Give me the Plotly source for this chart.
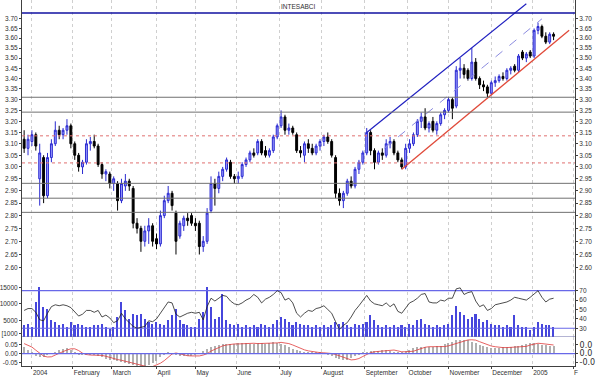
import numpy as np
import pandas as pd
import plotly.graph_objects as go

# ---------------- data (each bar = 2 trading sessions) ----------------
title_text = "INTESABCI"

holidays = ["2003-12-24", "2003-12-25", "2003-12-26", "2003-12-31", "2004-01-01",
            "2004-04-09", "2004-04-12", "2004-12-24", "2004-12-31"]

open_ = [3.12, 3.08, 3.11, 3.14, 2.95, 3.04, 2.88, 3.04, 3.10, 3.16,
         3.14, 3.16, 3.18, 3.10, 3.05, 3.00, 3.02, 3.10, 3.11, 3.09,
         3.01, 2.97, 2.97, 2.93, 2.93, 2.86, 2.92, 2.94, 2.91, 2.77,
         2.75, 2.70, 2.74, 2.76, 2.71, 2.69, 2.80, 2.86, 2.89, 2.81,
         2.72, 2.76, 2.79, 2.80, 2.77, 2.77, 2.68, 2.70, 2.82, 2.93,
         2.91, 2.96, 2.99, 3.02, 2.96, 2.95, 2.96, 3.01, 3.03, 3.06,
         3.06, 3.11, 3.07, 3.05, 3.07, 3.13, 3.18, 3.22, 3.16, 3.17,
         3.14, 3.07, 3.05, 3.10, 3.08, 3.06, 3.09, 3.11, 3.13, 3.11,
         3.04, 2.89, 2.86, 2.89, 2.94, 2.92, 2.99, 3.02, 3.06, 3.15,
         3.07, 3.02, 3.06, 3.05, 3.10, 3.11, 3.06, 3.03, 3.00, 3.08,
         3.10, 3.14, 3.20, 3.22, 3.17, 3.20, 3.16, 3.19, 3.23, 3.25,
         3.30, 3.27, 3.44, 3.45, 3.44, 3.40, 3.48, 3.40, 3.37, 3.36,
         3.33, 3.38, 3.39, 3.41, 3.40, 3.44, 3.46, 3.44, 3.53, 3.50,
         3.53, 3.51, 3.64, 3.66, 3.61, 3.58, 3.62]
high = [3.16, 3.14, 3.16, 3.15, 3.10, 3.05, 3.06, 3.12, 3.20, 3.18,
        3.17, 3.21, 3.19, 3.11, 3.06, 3.03, 3.12, 3.13, 3.14, 3.10,
        3.02, 2.99, 2.98, 2.96, 2.94, 2.95, 2.97, 2.95, 2.92, 2.79,
        2.76, 2.76, 2.79, 2.77, 2.73, 2.82, 2.88, 2.92, 2.90, 2.82,
        2.78, 2.80, 2.81, 2.81, 2.79, 2.78, 2.72, 2.83, 2.96, 2.95,
        2.98, 3.00, 3.04, 3.03, 2.97, 2.98, 3.02, 3.04, 3.07, 3.08,
        3.12, 3.12, 3.09, 3.08, 3.14, 3.19, 3.25, 3.23, 3.19, 3.18,
        3.15, 3.09, 3.11, 3.12, 3.10, 3.10, 3.12, 3.14, 3.15, 3.12,
        3.05, 2.91, 2.90, 2.95, 2.96, 3.00, 3.03, 3.07, 3.17, 3.16,
        3.08, 3.07, 3.08, 3.12, 3.13, 3.12, 3.07, 3.04, 3.10, 3.12,
        3.15, 3.21, 3.24, 3.26, 3.20, 3.22, 3.20, 3.24, 3.26, 3.31,
        3.31, 3.46, 3.50, 3.47, 3.45, 3.55, 3.50, 3.41, 3.39, 3.37,
        3.39, 3.41, 3.42, 3.43, 3.45, 3.46, 3.47, 3.52, 3.54, 3.53,
        3.54, 3.65, 3.68, 3.67, 3.63, 3.63, 3.63]
low = [3.06, 3.05, 3.09, 3.07, 2.84, 2.85, 2.87, 3.02, 3.09, 3.12,
       3.12, 3.14, 3.08, 3.03, 2.98, 2.97, 3.01, 3.07, 3.08, 3.00,
       2.95, 2.94, 2.91, 2.90, 2.82, 2.85, 2.90, 2.90, 2.75, 2.73,
       2.66, 2.68, 2.69, 2.68, 2.67, 2.68, 2.79, 2.85, 2.82, 2.65,
       2.71, 2.74, 2.76, 2.76, 2.74, 2.65, 2.66, 2.69, 2.81, 2.84,
       2.89, 2.94, 2.98, 2.95, 2.93, 2.93, 2.95, 3.00, 3.02, 3.04,
       3.05, 3.05, 3.04, 3.04, 3.06, 3.12, 3.17, 3.14, 3.14, 3.14,
       3.06, 3.04, 3.02, 3.06, 3.05, 3.05, 3.07, 3.09, 3.10, 3.04,
       2.87, 2.84, 2.83, 2.88, 2.91, 2.91, 2.97, 3.01, 3.05, 3.05,
       2.99, 3.01, 3.03, 3.04, 3.08, 3.05, 3.02, 2.99, 2.99, 3.06,
       3.09, 3.13, 3.17, 3.16, 3.15, 3.15, 3.14, 3.18, 3.21, 3.24,
       3.21, 3.26, 3.40, 3.40, 3.39, 3.39, 3.39, 3.35, 3.34, 3.31,
       3.32, 3.36, 3.38, 3.39, 3.39, 3.42, 3.43, 3.43, 3.49, 3.48,
       3.50, 3.50, 3.62, 3.60, 3.57, 3.57, 3.59]
close = [3.08, 3.12, 3.14, 3.09, 3.06, 2.88, 3.04, 3.10, 3.16, 3.14,
         3.16, 3.18, 3.10, 3.05, 3.00, 3.02, 3.10, 3.11, 3.09, 3.01,
         2.97, 2.98, 2.93, 2.95, 2.86, 2.93, 2.94, 2.92, 2.77, 2.75,
         2.70, 2.74, 2.76, 2.70, 2.69, 2.80, 2.86, 2.89, 2.84, 2.70,
         2.77, 2.79, 2.78, 2.77, 2.76, 2.68, 2.70, 2.81, 2.93, 2.91,
         2.96, 2.99, 3.03, 2.96, 2.95, 2.96, 3.01, 3.03, 3.06, 3.05,
         3.11, 3.06, 3.05, 3.07, 3.13, 3.18, 3.22, 3.16, 3.17, 3.15,
         3.07, 3.06, 3.10, 3.08, 3.06, 3.09, 3.11, 3.13, 3.11, 3.05,
         2.89, 2.86, 2.89, 2.94, 2.92, 2.99, 3.02, 3.06, 3.15, 3.07,
         3.02, 3.06, 3.05, 3.10, 3.11, 3.06, 3.03, 3.00, 3.08, 3.10,
         3.14, 3.20, 3.22, 3.17, 3.19, 3.16, 3.19, 3.23, 3.25, 3.30,
         3.26, 3.44, 3.45, 3.42, 3.40, 3.48, 3.40, 3.37, 3.36, 3.33,
         3.38, 3.39, 3.41, 3.40, 3.44, 3.45, 3.44, 3.51, 3.50, 3.52,
         3.51, 3.64, 3.66, 3.61, 3.58, 3.62, 3.61]
volume = [3500, 4000, 3000, 10500, 15000, 9000, 8500, 5000, 4500, 3500,
          4000, 3000, 4500, 3500, 4000, 3500, 3000, 3000, 3500, 3500,
          4000, 3000, 2500, 3000, 6000, 10500, 8000, 5500, 7000, 6500,
          7000, 5500, 4500, 4000, 4500, 4000, 3500, 5000, 6500, 8500,
          5000, 4000, 3500, 3000, 3000, 5500, 7500, 15000, 9000, 5500,
          6000, 13000, 5000, 4000, 3500, 4000, 3000, 3500, 3000, 3500,
          3000, 4000, 3500, 3000, 4000, 5000, 6000, 5500, 4500, 3500,
          4500, 4000, 3500, 3500, 3000, 3500, 3000, 3500, 3000, 3500,
          4500, 4000, 4500, 3500, 3000, 4000, 3500, 4000, 4500, 6500,
          5000, 3500, 3000, 3500, 3000, 3500, 3000, 3500, 3000, 4000,
          3500, 5000, 5500, 4000, 3500, 3000, 3500, 3000, 3500, 4000,
          6500, 9500, 7500, 6500, 5500, 6000, 7000, 5500, 4500, 5000,
          4000, 3500, 3500, 3000, 3500, 3000, 6500, 3500, 3000, 3000,
          2000, 3000, 4500, 4000, 3500, 3500, 3000]
rsi = [49, 51, 51, 47, 39, 38, 46, 53, 55, 54,
       55, 54, 52, 48, 43, 45, 49, 49, 47, 49,
       42, 44, 41, 36, 38, 46, 40, 36, 32, 30,
       31, 32, 38, 37, 40, 46, 53, 58, 57, 45,
       42, 44, 46, 47, 46, 47, 39, 53, 62, 59,
       62, 65, 64, 59, 56, 55, 57, 60, 62, 66,
       63, 57, 61, 63, 66, 70, 68, 60, 62, 57,
       46, 42, 46, 49, 48, 51, 52, 54, 50, 46,
       37, 29, 33, 36, 42, 49, 54, 60, 65, 59,
       56, 55, 54, 57, 53, 56, 48, 46, 52, 57,
       59, 62, 66, 67, 58, 57, 57, 60, 59, 62,
       62, 72, 73, 66, 68, 69, 59, 53, 55, 49,
       51, 55, 56, 57, 58, 60, 63, 62, 61, 60,
       63, 66, 70, 63, 58, 61, 62]
macd_signal = [0.058, 0.048, 0.038, 0.020, 0.002, -0.014, -0.019, -0.018, -0.008, 0.004,
               0.012, 0.021, 0.028, 0.028, 0.018, 0.003, -0.005, -0.008, -0.008, -0.008,
               -0.010, -0.015, -0.022, -0.030, -0.034, -0.038, -0.043, -0.049, -0.055, -0.061,
               -0.066, -0.073, -0.077, -0.074, -0.065, -0.055, -0.040, -0.020, -0.002, 0.004,
               -0.002, -0.008, -0.012, -0.013, -0.013, -0.013, -0.008, 0.000, 0.015, 0.025,
               0.038, 0.045, 0.050, 0.055, 0.056, 0.056, 0.057, 0.060, 0.060, 0.060,
               0.058, 0.058, 0.060, 0.059, 0.058, 0.062, 0.065, 0.062, 0.058, 0.050,
               0.040, 0.030, 0.022, 0.016, 0.012, 0.008, 0.006, 0.005, 0.004, 0.001,
               -0.005, -0.013, -0.024, -0.032, -0.036, -0.034, -0.028, -0.016, -0.006, 0.006,
               0.011, 0.013, 0.014, 0.015, 0.018, 0.021, 0.016, 0.011, 0.011, 0.012,
               0.014, 0.022, 0.030, 0.037, 0.040, 0.040, 0.040, 0.040, 0.041, 0.045,
               0.052, 0.060, 0.069, 0.075, 0.079, 0.080, 0.078, 0.069, 0.060, 0.050,
               0.044, 0.040, 0.036, 0.035, 0.035, 0.036, 0.040, 0.040, 0.041, 0.042,
               0.050, 0.056, 0.060, 0.058, 0.054, 0.050, 0.050]
macd_hist = [0.040, 0.022, 0.004, -0.012, -0.020, -0.020, -0.010, 0.003, 0.012, 0.021,
             0.028, 0.030, 0.020, 0.005, -0.004, -0.008, -0.009, -0.008, -0.010, -0.015,
             -0.022, -0.030, -0.035, -0.039, -0.044, -0.050, -0.056, -0.062, -0.068, -0.074,
             -0.078, -0.076, -0.066, -0.055, -0.040, -0.022, -0.004, 0.004, 0.000, -0.008,
             -0.012, -0.014, -0.014, -0.013, -0.009, 0.000, 0.014, 0.026, 0.038, 0.046,
             0.051, 0.055, 0.057, 0.057, 0.058, 0.060, 0.061, 0.060, 0.058, 0.057,
             0.060, 0.059, 0.058, 0.063, 0.066, 0.062, 0.057, 0.049, 0.039, 0.029,
             0.021, 0.015, 0.011, 0.008, 0.006, 0.005, 0.004, 0.001, -0.006, -0.014,
             -0.025, -0.033, -0.037, -0.034, -0.027, -0.015, -0.005, 0.007, 0.012, 0.014,
             0.015, 0.016, 0.019, 0.022, 0.016, 0.010, 0.010, 0.012, 0.015, 0.023,
             0.031, 0.038, 0.041, 0.040, 0.040, 0.040, 0.042, 0.046, 0.053, 0.061,
             0.070, 0.076, 0.080, 0.081, 0.078, 0.068, 0.059, 0.049, 0.043, 0.039,
             0.035, 0.034, 0.035, 0.036, 0.040, 0.041, 0.042, 0.043, 0.050, 0.057,
             0.061, 0.059, 0.054, 0.049, 0.048, 0.047, 0.046]

# trend lines (date, price)
upper_channel = [("2004-09-02", 3.15), ("2004-12-28", 3.78)]
middle_channel = [("2004-09-15", 3.08), ("2005-01-10", 3.70)]
lower_channel = [("2004-09-28", 2.99), ("2005-01-28", 3.64)]

# horizontal levels
level_top = [3.731]
levels_grey = [3.311, 3.242, 2.931, 2.870, 2.813]
levels_red = [3.135, 3.017]

month_labels = ["2004", "February", "March", "April", "May", "June", "July", "August",
                "September", "October", "November", "December", "2005", "F"]
price_ticks = [round(2.60 + 0.05 * i, 2) for i in range(23)]
volume_ticks = [1000, 5000, 10000, 15000]
volume_ticktext = ["[1000", "5000", "10000", "15000"]
rsi_ticks = [30, 40, 50, 60, 70]
rsi_levels = [70, 30]
macd_ticks = [-0.05, 0.0, 0.05]

# ---------------- build ----------------
days = pd.bdate_range("2003-12-22", "2005-02-01")
days = days[~days.isin(pd.to_datetime(holidays))]
day_index = {d.strftime("%Y-%m-%d"): i for i, d in enumerate(days)}
ser = pd.Series(range(len(days)), index=days)
month_ticks = list(ser.groupby([days.year, days.month]).first().values[1:])

bar_x = list(range(0, 2 * len(close), 2))
XR = [-1.1, 283.0]

FONT = dict(family="Liberation Sans, Arial, sans-serif", size=6.5, color="#303030")
AXC = "#404040"

fig = go.Figure()

fig.add_trace(go.Candlestick(
    x=bar_x, open=open_, high=high, low=low, close=close,
    increasing=dict(line=dict(color="#2a2ad0", width=1), fillcolor="#9a9aff"),
    decreasing=dict(line=dict(color="#000000", width=1), fillcolor="#000000"),
    xaxis="x", yaxis="y", showlegend=False, hoverinfo="skip"))

def hline(level, yaxis, color, width, dash="solid"):
    fig.add_trace(go.Scatter(x=XR, y=[level, level], mode="lines", xaxis="x", yaxis=yaxis,
                             line=dict(color=color, width=width, dash=dash),
                             showlegend=False, hoverinfo="skip"))

for lv in level_top:
    hline(lv, "y5", "#1010a0", 1.6)
for lv in levels_grey:
    hline(lv, "y5", "#707070", 1.0)
for lv in levels_red:
    hline(lv, "y5", "#e07070", 1.0, "dot")

def tline(pts, color, width, dash="solid"):
    fig.add_trace(go.Scatter(x=[day_index[d] for d, _ in pts], y=[p for _, p in pts],
                             mode="lines", xaxis="x", yaxis="y",
                             line=dict(color=color, width=width, dash=dash),
                             showlegend=False, hoverinfo="skip"))

tline(upper_channel, "#2020c0", 1.2)
tline(middle_channel, "#8c8ce0", 1.0, "dash")
tline(lower_channel, "#e04a3a", 1.3)

# volume + RSI panel
fig.add_trace(go.Bar(x=bar_x, y=volume, width=0.8, marker=dict(color="#4646dc", line=dict(width=0)),
                     xaxis="x", yaxis="y2", showlegend=False, hoverinfo="skip"))
hline(0, "y2", "#6a6aa8", 1.2)
for lv in rsi_levels:
    hline(lv, "y3", "#6868e8", 1.2)
fig.add_trace(go.Scatter(x=bar_x, y=rsi, mode="lines", line=dict(color="#202020", width=0.8),
                         xaxis="x", yaxis="y3", showlegend=False, hoverinfo="skip"))

# MACD panel
fig.add_trace(go.Bar(x=bar_x, y=macd_hist, width=0.6, marker=dict(color="#b0b0b0", line=dict(width=0)),
                     xaxis="x", yaxis="y4", showlegend=False, hoverinfo="skip"))
hline(0, "y6", "#6868e8", 1.2)
fig.add_trace(go.Scatter(x=bar_x, y=macd_signal, mode="lines", line=dict(color="#e03a3a", width=0.8),
                         xaxis="x", yaxis="y4", showlegend=False, hoverinfo="skip"))

H = 366.0
p_rng = [np.log10(2.556), np.log10(3.80)]
v_rng = [0, 17200]
r_rng = [20.7, 81.4]
m_rng = [-0.071, 0.096]

common_y = dict(showgrid=False, zeroline=False, showline=True, linecolor=AXC, linewidth=1,
                ticks="outside", ticklen=2, tickcolor=AXC, tickfont=FONT, anchor="x",
                automargin=False)

fig.update_layout(
    template="none",
    width=600, height=378, autosize=False,
    margin=dict(l=22, r=25, t=0, b=12, pad=0),
    paper_bgcolor="white", plot_bgcolor="white",
    showlegend=False, barmode="overlay", bargap=0,
    font=FONT,
    xaxis=dict(domain=[0, 1], anchor="y4", range=XR, tickvals=month_ticks, ticktext=month_labels,
               ticks="outside", ticklen=2, tickcolor=AXC, showline=True, linecolor=AXC,
               showgrid=True, gridcolor="#cfcfcf", griddash="dot", gridwidth=1,
               ticklabelposition="outside right", tickfont=FONT, zeroline=False,
               automargin=False, rangeslider=dict(visible=False)),
    yaxis=dict(domain=[86 / H, 1], type="log", range=p_rng, tickvals=price_ticks,
               ticktext=["%.2f" % t for t in price_ticks], side="left", **common_y),
    yaxis5=dict(overlaying="y", type="log", range=p_rng, tickvals=price_ticks,
                ticktext=["%.2f" % t for t in price_ticks], side="right", **common_y),
    yaxis2=dict(domain=[29 / H, 86 / H], range=v_rng, tickvals=volume_ticks,
                ticktext=volume_ticktext, side="left", **common_y),
    yaxis3=dict(overlaying="y2", range=r_rng, tickvals=rsi_ticks, side="right", **common_y),
    yaxis4=dict(domain=[0, 29 / H], range=m_rng, tickvals=macd_ticks,
                ticktext=["-0.05", "0.00", "0.05"], side="left", **common_y),
    yaxis6=dict(overlaying="y4", range=m_rng, tickvals=macd_ticks, ticktext=["-0.0", "0.0", "0.0"],
                side="right", showgrid=False, zeroline=False, showline=True, linecolor=AXC,
                ticks="outside", ticklen=2, tickcolor=AXC, anchor="x", automargin=False,
                tickfont=dict(family="DejaVu Sans", size=8, color="#303030")),
    annotations=[dict(text=title_text, x=0.5, y=1, xref="paper", yref="paper",
                      xanchor="center", yanchor="top", showarrow=False, font=FONT, yshift=-1)],
)

fig.write_html("out.html", config={"displayModeBar": False},
               post_script="document.body.style.margin='0px';document.body.style.padding='0px';")
